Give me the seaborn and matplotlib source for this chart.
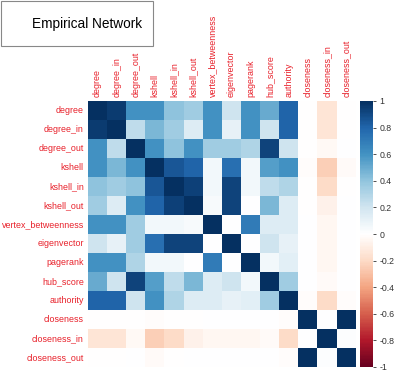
import numpy as np
import pandas as pd
import matplotlib
matplotlib.use("Agg")
import matplotlib.pyplot as plt
import seaborn as sns
from matplotlib.colors import LinearSegmentedColormap
from matplotlib.patches import Rectangle

variables = ["degree", "degree_in", "degree_out", "kshell", "kshell_in", "kshell_out",
             "vertex_betweenness", "eigenvector", "pagerank", "hub_score", "authority",
             "closeness", "closeness_in", "closeness_out"]

r_degree             = [1.00, 0.95, 0.60, 0.60, 0.40, 0.35, 0.60, 0.20, 0.60, 0.50, 0.80, -0.01, -0.15, -0.01]
r_degree_in          = [0.95, 1.00, 0.25, 0.45, 0.35, 0.15, 0.60, 0.10, 0.60, 0.20, 0.80, -0.01, -0.15, -0.01]
r_degree_out         = [0.60, 0.25, 1.00, 0.60, 0.40, 0.60, 0.35, 0.35, 0.30, 0.92, 0.20, -0.01, -0.04, 0.00]
r_kshell             = [0.60, 0.45, 0.60, 1.00, 0.85, 0.80, 0.05, 0.75, 0.05, 0.55, 0.60, -0.02, -0.25, -0.03]
r_kshell_in          = [0.40, 0.35, 0.40, 0.85, 1.00, 0.93, 0.05, 0.92, 0.05, 0.25, 0.30, -0.01, -0.20, -0.01]
r_kshell_out         = [0.35, 0.15, 0.60, 0.80, 0.93, 1.00, 0.03, 0.92, 0.00, 0.45, 0.15, -0.01, -0.08, 0.00]
r_vertex_betweenness = [0.60, 0.60, 0.35, 0.05, 0.05, 0.03, 1.00, 0.00, 0.70, 0.15, 0.15, 0.00, -0.05, 0.00]
r_eigenvector        = [0.20, 0.10, 0.35, 0.75, 0.92, 0.92, 0.00, 1.00, 0.00, 0.20, 0.10, 0.00, -0.05, 0.00]
r_pagerank           = [0.60, 0.60, 0.30, 0.05, 0.05, 0.00, 0.70, 0.00, 1.00, 0.05, 0.12, 0.00, -0.05, 0.00]
r_hub_score          = [0.50, 0.20, 0.92, 0.55, 0.25, 0.45, 0.15, 0.20, 0.05, 1.00, 0.35, 0.00, -0.03, 0.00]
r_authority          = [0.80, 0.80, 0.20, 0.60, 0.30, 0.15, 0.15, 0.10, 0.12, 0.35, 1.00, -0.02, -0.20, -0.02]
r_closeness          = [-0.01, -0.01, -0.01, -0.02, -0.01, -0.01, 0.00, 0.00, 0.00, 0.00, -0.02, 1.00, 0.00, 1.00]
r_closeness_in       = [-0.15, -0.15, -0.04, -0.25, -0.20, -0.08, -0.05, -0.05, -0.05, -0.03, -0.20, 0.00, 1.00, 0.01]
r_closeness_out      = [-0.01, -0.01, 0.00, -0.03, -0.01, 0.00, 0.00, 0.00, 0.00, 0.00, -0.02, 1.00, 0.01, 1.00]

rows = [r_degree, r_degree_in, r_degree_out, r_kshell, r_kshell_in, r_kshell_out,
        r_vertex_betweenness, r_eigenvector, r_pagerank, r_hub_score, r_authority,
        r_closeness, r_closeness_in, r_closeness_out]

cbar_ticks = [1, 0.8, 0.6, 0.4, 0.2, 0, -0.2, -0.4, -0.6, -0.8, -1]
title = "Empirical Network"

df = pd.DataFrame(rows, index=variables, columns=variables)

cmap = LinearSegmentedColormap.from_list(
    "corr_rdbu",
    ["#67001F", "#B2182B", "#D6604D", "#F4A582", "#FDDBC7", "#FFFFFF",
     "#D1E5F0", "#92C5DE", "#4393C3", "#2166AC", "#053061"], N=200)

plt.rcParams["font.family"] = ["Liberation Sans", "DejaVu Sans"]

W, H = 396, 386
fig = plt.figure(figsize=(W / 100, H / 100), dpi=100)
ax = fig.add_axes([88 / W, 1 - 367 / H, (355.7 - 88) / W, (367 - 101) / H])
cax = fig.add_axes([360 / W, 1 - 367 / H, 13 / W, (367 - 101) / H])

sns.heatmap(df, ax=ax, cbar_ax=cax, cmap=cmap, vmin=-1, vmax=1,
            linewidths=0, square=False)

ax.xaxis.tick_top()
ax.set_xticks(np.arange(len(variables)) + 0.5)
ax.set_xticklabels(variables, rotation=90, color="#E8202A", fontsize=6.4)
ax.set_yticks(np.arange(len(variables)) + 0.5)
ax.set_yticklabels(variables, rotation=0, color="#E8202A", fontsize=6.4)
ax.tick_params(axis="both", length=0, pad=3)
ax.set_xlabel("")
ax.set_ylabel("")

cax.set_yticks(cbar_ticks)
cax.set_yticklabels([f"{t:g}" for t in cbar_ticks])
cax.tick_params(axis="y", labelsize=6.3, length=2.5, width=0.6, colors="#333333", pad=2)
for s in cax.spines.values():
    s.set_visible(False)

fig.patches.append(Rectangle((0.5 / W, 1 - 46 / H), 152 / W, 45.5 / H,
                             transform=fig.transFigure, fill=False,
                             edgecolor="#888888", linewidth=0.8))
fig.text(87 / W, 1 - 24 / H, title, ha="center", va="center", fontsize=9.8, color="black")

fig.savefig("out.png", dpi=100)
